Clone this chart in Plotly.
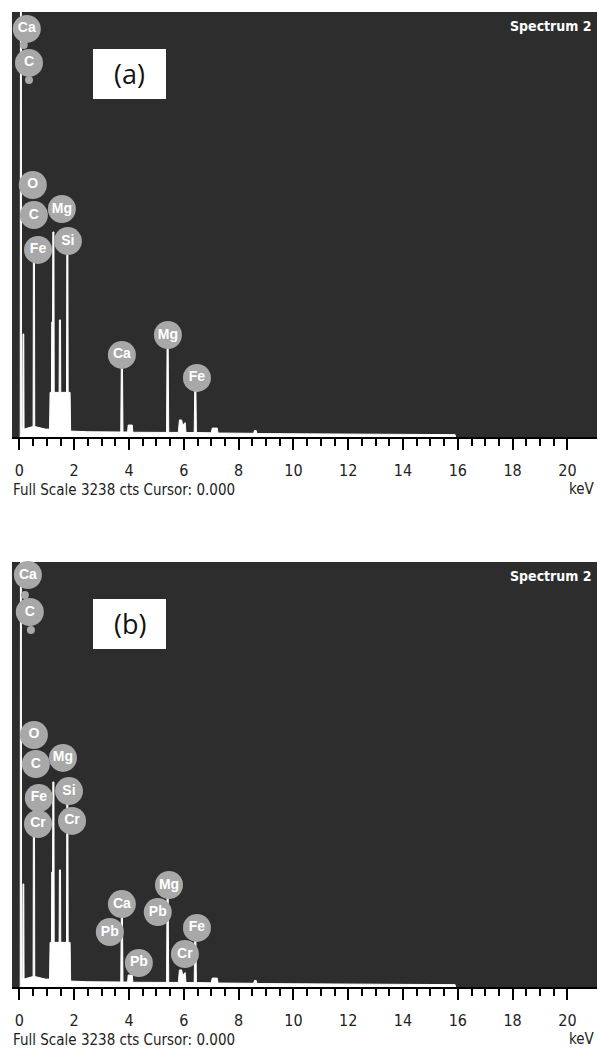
import plotly.graph_objects as go

# EDS spectrum (same acquisition shown in both panels), energy in keV, counts
energy_kev = [0.00, 0.03, 0.04, 0.07, 0.08, 0.12, 0.13, 0.16, 0.17, 0.30,
              0.45, 0.50, 0.51, 0.55, 0.56, 0.75, 0.95, 1.10, 1.12, 1.17,
              1.18, 1.21, 1.22, 1.26, 1.27, 1.45, 1.46, 1.50, 1.51, 1.72,
              1.73, 1.77, 1.78, 1.85, 1.87, 2.50, 3.00, 3.70, 3.72, 3.76,
              3.78, 3.95, 3.97, 4.12, 4.14, 4.60, 5.00, 5.37, 5.39, 5.43,
              5.45, 5.80, 5.84, 5.92, 5.96, 6.05, 6.08, 6.38, 6.40, 6.44,
              6.46, 7.00, 7.04, 7.22, 7.25, 8.00, 8.55, 8.58, 8.64, 8.67,
              10.0, 12.0, 14.1, 15.9, 15.92]
counts = [0, 0, 4000, 4000, 60, 60, 785, 785, 60, 70,
          80, 80, 1372, 1372, 80, 70, 60, 60, 340, 340,
          876, 876, 1562, 1562, 340, 340, 892, 892, 340, 340,
          1410, 1410, 340, 340, 45, 40, 38, 38, 590, 590,
          38, 38, 91, 91, 36, 35, 35, 35, 700, 700,
          35, 35, 130, 130, 90, 110, 34, 34, 381, 381,
          34, 32, 68, 68, 30, 28, 28, 50, 50, 26,
          24, 22, 20, 18, 0]

# Element markers, panel (a)
labels_a_text = ["Ca", "C", "O", "C", "Fe", "Mg", "Si", "Ca", "Mg", "Fe"]
labels_a_kev = [0.27, 0.35, 0.49, 0.53, 0.68, 1.55, 1.77, 3.74, 5.42, 6.48]
labels_a_cts = [3109, 2850, 1920, 1691, 1425, 1737, 1493, 625, 777, 450]
# small pin tails below the top-left markers, panel (a)
tails_a_kev = [0.16, 0.35]
tails_a_cts = [2987, 2720]

# Element markers, panel (b)
labels_b_text = ["Ca", "C", "O", "C", "Fe", "Cr", "Mg", "Si", "Cr", "Pb",
                 "Ca", "Pb", "Pb", "Mg", "Cr", "Fe"]
labels_b_kev = [0.31, 0.38, 0.53, 0.60, 0.71, 0.68, 1.59, 1.81, 1.92, 3.30,
                3.74, 4.36, 5.05, 5.46, 6.04, 6.48]
labels_b_cts = [3139, 2857, 1920, 1699, 1440, 1242, 1745, 1493, 1265, 419,
                632, 183, 571, 777, 251, 450]
tails_b_kev = [0.20, 0.42]
tails_b_cts = [2987, 2720]

full_scale = 3238
major_ticks = [0, 2, 4, 6, 8, 10, 12, 14, 16, 18, 20]
minor_ticks = [v / 2 for v in range(0, 41) if v % 4 != 0]

W, H = 598, 1050
BG = "#2d2d2d"
NARROW = "Liberation Sans Narrow, Arial Narrow, DejaVu Sans Condensed, sans-serif"
MARK_GREY = "#a8a8a8"


def px(x):
    return x / W


def py(y):
    return 1 - y / H


fig = go.Figure()

panels = [
    ("x", "y", labels_a_text, labels_a_kev, labels_a_cts, tails_a_kev, tails_a_cts),
    ("x2", "y2", labels_b_text, labels_b_kev, labels_b_cts, tails_b_kev, tails_b_cts),
]
for xa, ya, txt, kev, cts, tkev, tcts in panels:
    fig.add_trace(go.Scatter(
        x=energy_kev, y=counts, xaxis=xa, yaxis=ya, mode="lines",
        line=dict(color="white", width=1), fill="tozeroy",
        fillcolor="white", hoverinfo="skip", showlegend=False))
    fig.add_trace(go.Scatter(
        x=tkev, y=tcts, xaxis=xa, yaxis=ya, mode="markers",
        marker=dict(size=8, color=MARK_GREY, line=dict(width=0)),
        cliponaxis=False, hoverinfo="skip", showlegend=False))
    fig.add_trace(go.Scatter(
        x=kev, y=cts, xaxis=xa, yaxis=ya, mode="markers+text",
        text=txt, textposition="middle center",
        marker=dict(size=28, color=MARK_GREY, line=dict(width=0)),
        textfont=dict(family="Liberation Sans, Arial, sans-serif", size=14,
                      color="white", weight=700),
        cliponaxis=False, hoverinfo="skip", showlegend=False))

xaxis_style = dict(
    range=[-0.27, 21.08], domain=[px(12), px(597)],
    tickmode="array", tickvals=major_ticks, ticktext=[str(v) for v in major_ticks],
    ticks="outside", ticklen=11, tickwidth=2, tickcolor="black",
    showline=True, linecolor="black", linewidth=2, mirror=False,
    showgrid=False, zeroline=False, ticklabelstandoff=7,
    tickfont=dict(family=NARROW, size=16, color="#222222"),
    minor=dict(tickmode="array", tickvals=minor_ticks, ticks="outside",
               ticklen=7, tickwidth=2, tickcolor="black", showgrid=False),
    fixedrange=True,
)
yaxis_style = dict(range=[0, full_scale], visible=False, showgrid=False,
                   zeroline=False, fixedrange=True)

fig.update_layout(
    width=W, height=H, margin=dict(l=0, r=0, t=0, b=0),
    paper_bgcolor="white", plot_bgcolor=BG,
    xaxis=dict(xaxis_style, anchor="y"),
    yaxis=dict(yaxis_style, domain=[py(437), py(12)], anchor="x"),
    xaxis2=dict(xaxis_style, anchor="y2"),
    yaxis2=dict(yaxis_style, domain=[py(987), py(562)], anchor="x2"),
)

annotations = []
shapes = []
for off, tag in [(0, "(a)"), (550, "(b)")]:
    annotations.append(dict(
        x=px(11), y=py(490 + off), xref="paper", yref="paper",
        xanchor="left", yanchor="middle", showarrow=False,
        text="Full Scale 3238 cts Cursor: 0.000",
        font=dict(family=NARROW, size=15, color="#222222")))
    annotations.append(dict(
        x=px(597), y=py(489 + off), xref="paper", yref="paper",
        xanchor="right", yanchor="middle", showarrow=False, text="keV",
        font=dict(family=NARROW, size=15, color="#222222")))
    annotations.append(dict(
        x=px(594), y=py(26 + off), xref="paper", yref="paper",
        xanchor="right", yanchor="middle", showarrow=False, text="<b>Spectrum 2</b>",
        font=dict(family=NARROW, size=14, color="white")))
    shapes.append(dict(
        type="rect", xref="paper", yref="paper",
        x0=px(93), x1=px(166), y0=py(99 + off), y1=py(49 + off),
        fillcolor="white", line=dict(width=0), layer="above"))
    annotations.append(dict(
        x=px(129.5), y=py(73 + off), xref="paper", yref="paper",
        xanchor="center", yanchor="middle", showarrow=False, text=tag,
        font=dict(family="Open Sans, Noto Sans, sans-serif", size=27,
                  color="#111111")))

fig.update_layout(annotations=annotations, shapes=shapes)

fig.write_html("out.html")
